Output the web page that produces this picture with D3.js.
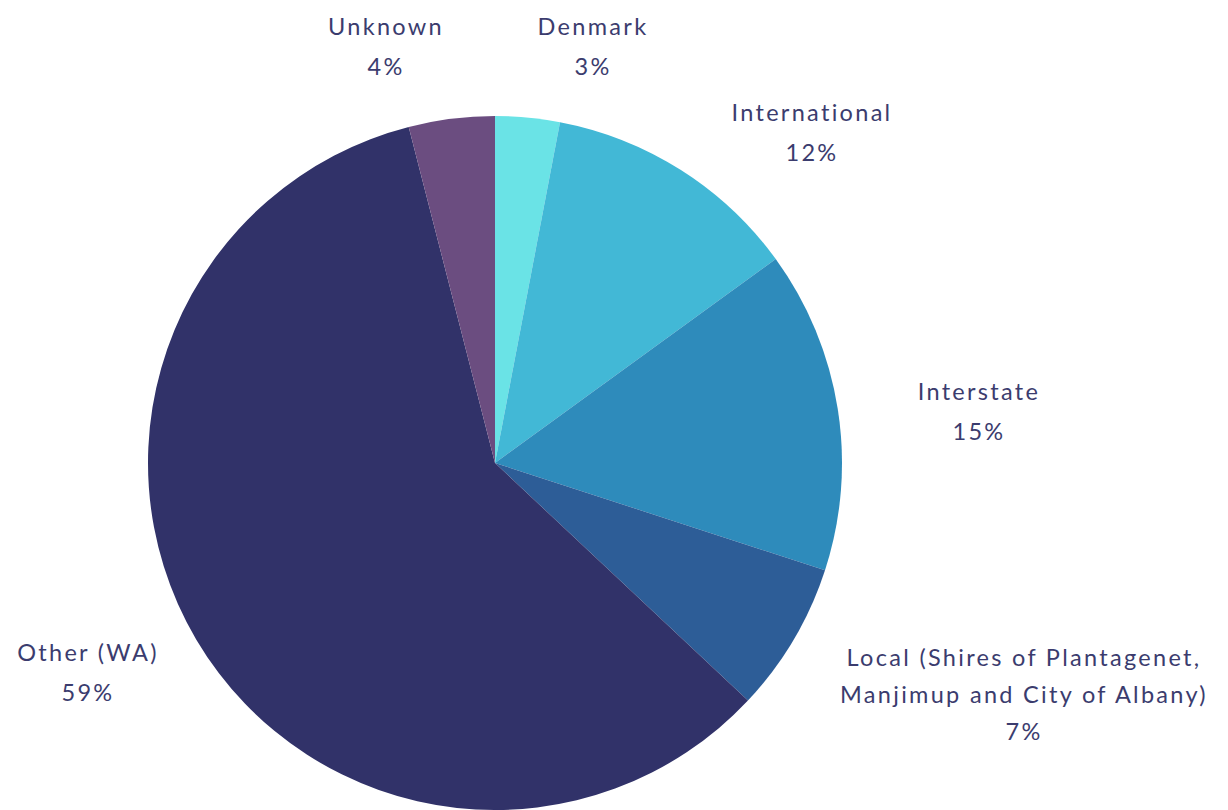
<!DOCTYPE html>
<html><head><meta charset="utf-8">
<script src="https://cdn.jsdelivr.net/npm/d3@7"></script>
<style>html,body{margin:0;padding:0;background:#fff;}svg{display:block;}</style>
</head><body>
<svg id="c" width="1228" height="810"></svg>
<script>
const categories = ["Denmark","International","Interstate","Local (Shires of Plantagenet,|Manjimup and City of Albany)","Other (WA)","Unknown"];
const values = [3,12,15,7,59,4];
const colors = ["#6ae3e6","#42b8d6","#2e8bbb","#2d5d97","#313269","#6b4d80"];
// label anchor positions (layout)
const labelPos = [[593,26],[812,112],[979,391],[1024,657],[88,652],[386,26]];

const svg = d3.select("#c");
const cx = 495, cy = 463, r = 347;
const pie = d3.pie().sort(null).value(d=>d)(values);
const arc = d3.arc().innerRadius(0).outerRadius(r);
const g = svg.append("g").attr("transform",`translate(${cx},${cy})`);
g.selectAll("path").data(pie).join("path").attr("d",arc).attr("fill",(d,i)=>colors[i]);

const lab = svg.append("g").attr("font-family","Lato, 'Open Sans', sans-serif").attr("font-size",23.5)
  .attr("fill","#3b3c6e").attr("letter-spacing","2.3px").attr("text-anchor","middle");
categories.forEach((c,i)=>{
  const lines = c.split("|").concat([values[i]+"%"]);
  const lh = lines.length>2 ? 37 : 40;
  const t = lab.append("text").attr("x",labelPos[i][0]).attr("y",labelPos[i][1]).attr("dominant-baseline","central");
  lines.forEach((l,j)=>t.append("tspan").attr("x",labelPos[i][0]).attr("y",labelPos[i][1]+j*lh).text(l));
});
</script>
</body></html>
